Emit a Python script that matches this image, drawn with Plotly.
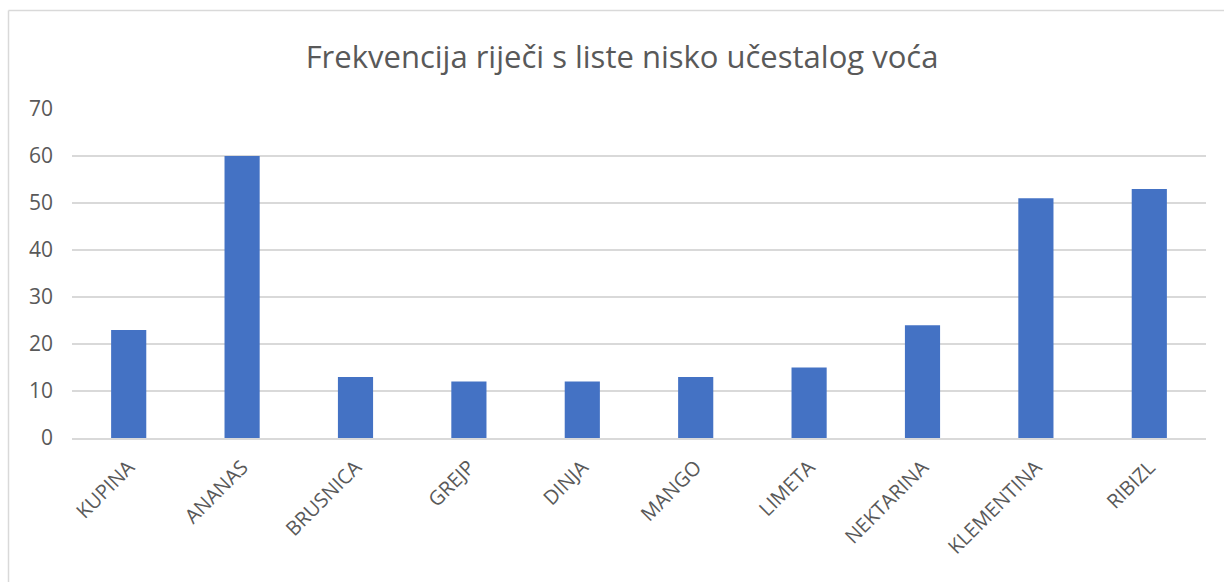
import plotly.graph_objects as go

categories = ["KUPINA", "ANANAS", "BRUSNICA", "GREJP", "DINJA",
              "MANGO", "LIMETA", "NEKTARINA", "KLEMENTINA", "RIBIZL"]
values = [23, 60, 13, 12, 12, 13, 15, 24, 51, 53]
y_ticks = [0, 10, 20, 30, 40, 50, 60, 70]

W, H = 1224, 582
L, R, T, B = 72, 18, 109, 144
pw, ph = W - L - R, H - T - B

TEXT = "#595959"
GRID = "#d9d9d9"
FONT = "'Open Sans', sans-serif"

fig = go.Figure(go.Bar(
    x=categories, y=values,
    marker=dict(color="#4472C4", line=dict(width=0)),
))

# outer chart frame (left and top edges visible inside the window)
def px_x(x):
    return (x - L) / pw

def px_y(y):
    return (H - B - y) / ph

fig.add_shape(type="line", xref="paper", yref="paper",
              x0=px_x(8.5), x1=px_x(W + 5), y0=px_y(10.5), y1=px_y(10.5),
              line=dict(color=GRID, width=1.5))
fig.add_shape(type="line", xref="paper", yref="paper",
              x0=px_x(8.5), x1=px_x(8.5), y0=px_y(10.5), y1=px_y(H + 5),
              line=dict(color=GRID, width=1.5))

fig.update_layout(
    width=W, height=H,
    margin=dict(l=L, r=R, t=T, b=B, autoexpand=False),
    paper_bgcolor="white", plot_bgcolor="white",
    bargap=0.69,
    font=dict(family=FONT, color=TEXT, size=20),
    title=dict(text="Frekvencija riječi s liste nisko učestalog voća",
               x=622 / W, xanchor="center", y=1 - 57 / H, yanchor="middle",
               font=dict(size=31, color=TEXT, family=FONT)),
    showlegend=False,
)
fig.update_xaxes(tickangle=-45, showgrid=False, showline=True,
                 linecolor=GRID, linewidth=1.5, ticks="",
                 tickfont=dict(size=20, color=TEXT), ticklabelstandoff=8)
fig.update_yaxes(range=[0, 70], tickvals=y_ticks, showgrid=True,
                 gridcolor=GRID, gridwidth=1.5, zeroline=False,
                 showline=False, ticks="",
                 tickfont=dict(size=21, color=TEXT), ticklabelstandoff=18)

fig.write_html("out.html")
